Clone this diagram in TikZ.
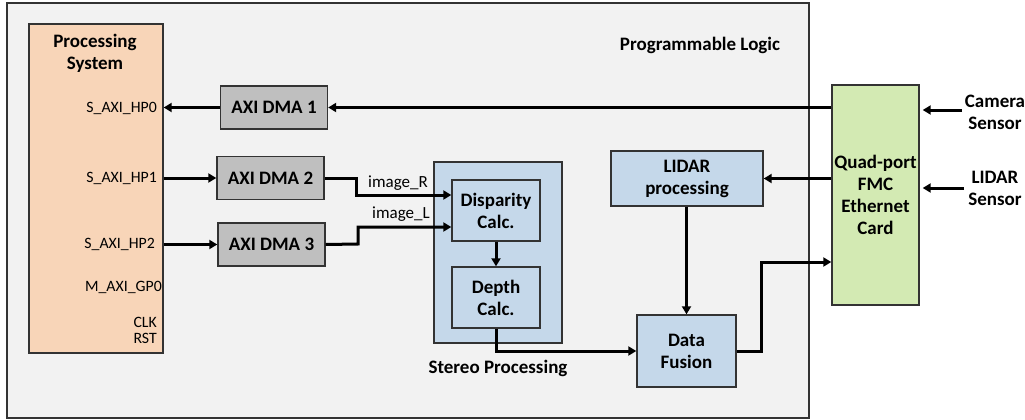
\documentclass[tikz,border=0pt]{standalone}
\usepackage{fontspec}
\setmainfont{Carlito}
\usetikzlibrary{arrows.meta}
\definecolor{plfill}{HTML}{F2F2F2}
\definecolor{psfill}{HTML}{F8D5B8}
\definecolor{dmafill}{HTML}{BFBFBF}
\definecolor{bluefill}{HTML}{C5D8EA}
\definecolor{greenfill}{HTML}{D3EAB3}
\definecolor{edge}{HTML}{333333}
\tikzset{
  box/.style={draw=edge, line width=1.4pt, inner sep=0pt, align=center,
    font=\fontsize{19}{22}\selectfont\bfseries},
  dmabox/.style={box, fill=dmafill, minimum width=107, minimum height=43},
  bluebox/.style={box, fill=bluefill},
  port/.style={anchor=east, inner sep=0pt, font=\fontsize{15.8}{15}\selectfont},
  lbl/.style={inner sep=0pt, align=center, font=\fontsize{19}{22}\selectfont\bfseries},
  wlbl/.style={inner sep=0pt, font=\fontsize{17}{15}\selectfont},
  arr/.style={line width=3pt, -{Triangle[length=8pt,width=9pt]}},
  wire/.style={line width=3pt}
}
\begin{document}
\begin{tikzpicture}[x=1pt,y=-1pt]
\useasboundingbox (0,0) rectangle (1025,420);
\fill[white] (0,0) rectangle (1025,420);
% Programmable logic region
\draw[draw=edge, fill=plfill, line width=1.4pt] (7,3) rectangle (809,418);
\node[lbl] (pl) at (700,45) {Programmable Logic};
% Processing system
\node[box, fill=psfill, minimum width=134, minimum height=329] (ps) at (96,188.5) {};
\node[lbl] (pstitle) at (95,53) {Processing\\System};
\node[port] (hp0) at (157,108) {S\_AXI\_HP0};
\node[port] (hp1) at (157,178) {S\_AXI\_HP1};
\node[port] (hp2) at (155,244) {S\_AXI\_HP2};
\node[port] (gp0) at (162,287) {M\_AXI\_GP0};
\node[port] (clk) at (157,322) {CLK};
\node[port] (rst) at (157,338) {RST};
% DMAs
\node[dmabox] (dma1) at (274,107.5) {AXI DMA 1};
\node[dmabox] (dma2) at (270.5,178) {AXI DMA 2};
\node[dmabox] (dma3) at (271.5,244.5) {AXI DMA 3};
% Stereo processing
\node[box, fill=bluefill, minimum width=128, minimum height=181] (stereo) at (498,252.5) {};
\node[lbl] (stlbl) at (498,368) {Stereo Processing};
\node[bluebox, minimum width=88, minimum height=61] (disp) at (496,210.5) {Disparity\\Calc.};
\node[bluebox, minimum width=88, minimum height=61] (depth) at (496,297.5) {Depth\\Calc.};
% LIDAR / fusion
\node[bluebox, minimum width=152, minimum height=55] (lidar) at (687,178.5) {LIDAR\\processing};
\node[bluebox, minimum width=99, minimum height=72] (fusion) at (686.5,351) {Data\\Fusion};
% FMC card
\node[box, fill=greenfill, minimum width=87, minimum height=220] (fmc) at (875.5,195) {Quad-port\\FMC\\Ethernet\\Card};
% Sensors
\node[lbl] (cam) at (995,112) {Camera\\Sensor};
\node[lbl] (lsen) at (995,188) {LIDAR\\Sensor};
\coordinate (camin) at (962,110);
\coordinate (lsenin) at (964,188);
% wires
\draw[arr] (fmc.west |- dma1.east) -- (dma1.east);
\draw[arr] (dma1.west) -- (ps.east |- dma1.west);
\draw[arr] (ps.east |- dma2.west) -- (dma2.west);
\draw[arr] (ps.east |- dma3.west) -- (dma3.west);
\draw[arr] (dma2.east) -- (356,178) -- (356,195) -- (disp.west |- 0,195);
\draw[arr] (dma3.east) -- (358,244) -- (358,227) -- (disp.west |- 0,227);
\node[wlbl] (imr) at (398,183) {image\_R};
\node[wlbl] (iml) at (401,214) {image\_L};
\draw[arr] (disp.south) -- (depth.north);
\draw[arr] (depth.south) |- (fusion.west);
\draw[arr] (fmc.west |- lidar.east) -- (lidar.east);
\draw[arr] (lidar.south -| fusion.north) -- (fusion.north);
\draw[arr] (fusion.east) -- (761,351) -- (761,262) -- (fmc.west |- 0,262);
\draw[arr, shorten >=3pt] (camin) -- (fmc.east |- camin);
\draw[arr, shorten >=3pt] (lsenin) -- (fmc.east |- lsenin);
\end{tikzpicture}
\end{document}
